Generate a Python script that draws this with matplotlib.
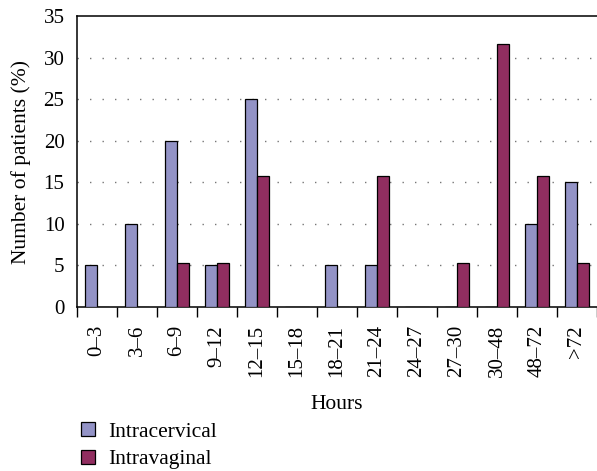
"""grouped bar chart of delivery interval by route of administration"""

import matplotlib.pyplot as plt
import numpy as np
from matplotlib.patches import Patch

plt.rcParams["font.family"] = ["Liberation Serif", "DejaVu Serif"]

hours = ["0–3", "3–6", "6–9", "9–12", "12–15", "15–18", "18–21",
         "21–24", "24–27", "27–30", "30–48", "48–72", ">72"]
intracervical = [5, 10, 20, 5, 25, 0, 5, 5, 0, 0, 0, 10, 15]
intravaginal = [0, 0, 5.26, 5.26, 15.79, 0, 0, 15.79, 0, 5.26, 31.58, 15.79, 5.26]

BLUE = "#9393c6"
RED = "#912e60"


def main() -> None:
    fig = plt.figure(figsize=(5.97, 4.71), dpi=100)
    ax = fig.add_axes([77 / 597, 164 / 471, 520 / 597, 291 / 471])

    x = np.arange(len(hours))
    width = 0.3
    ax.bar(x - width / 2, intracervical, width, color=BLUE,
           edgecolor="black", linewidth=0.9, zorder=3)
    ax.bar(x + width / 2, intravaginal, width, color=RED,
           edgecolor="black", linewidth=0.9, zorder=3)

    ax.set_xlim(-0.5, len(hours) - 0.5)
    ax.set_ylim(0, 35)

    # category labels centred, tick marks on the boundaries
    ax.set_xticks(x)
    ax.set_xticklabels(hours, rotation=90, fontsize=15)
    ax.tick_params(axis="x", which="major", length=0, pad=13)
    ax.set_xticks(np.arange(-0.5, len(hours)), minor=True)
    ax.tick_params(axis="x", which="minor", length=7, width=1, direction="out")

    ax.set_yticks(range(0, 36, 5))
    ax.tick_params(axis="y", which="major", length=0, labelsize=15, pad=9)
    ax.set_yticks([0, 35], minor=True)
    ax.tick_params(axis="y", which="minor", length=7, width=1, direction="out")

    for y in range(5, 35, 5):
        ax.axhline(y, color="#777777", linewidth=1, linestyle=(0, (1, 8)), zorder=1)

    ax.spines["right"].set_visible(False)
    for side in ("left", "top", "bottom"):
        ax.spines[side].set_linewidth(1.1)

    ax.set_ylabel("Number of patients (%)", fontsize=15.5, labelpad=9)
    ax.set_xlabel("Hours", fontsize=15.5, labelpad=13)

    handles = [Patch(facecolor=BLUE, edgecolor="black", linewidth=0.9, label="Intracervical"),
               Patch(facecolor=RED, edgecolor="black", linewidth=0.9, label="Intravaginal")]
    fig.legend(handles=handles, loc="upper left", bbox_to_anchor=(70 / 597, 60 / 471),
               frameon=False, fontsize=15.5, handlelength=0.65, handleheight=0.65,
               handletextpad=0.6, labelspacing=0.38, borderpad=0)

    fig.savefig("out.png", dpi=100)
    plt.close(fig)


if __name__ == "__main__":
    main()
